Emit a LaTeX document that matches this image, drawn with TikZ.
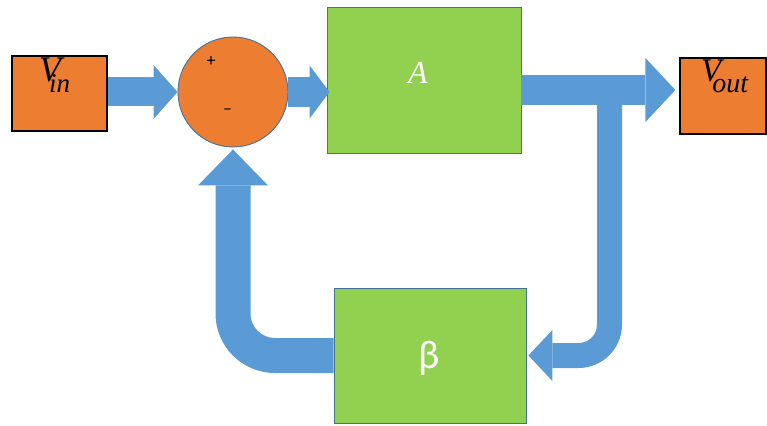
\documentclass[tikz,border=0pt]{standalone}
\usepackage{fontspec}
\newfontfamily\calib{Carlito}
\newfontfamily\serifit{Liberation Serif}[UprightFont=*-Italic]
\usetikzlibrary{arrows.meta,calc}
\definecolor{boxorange}{HTML}{ED7D31}
\definecolor{boxgreen}{HTML}{92D050}
\definecolor{flowblue}{HTML}{5B9BD5}
\definecolor{edgeblue}{HTML}{41719C}
\begin{document}
\begin{tikzpicture}[x=1pt,y=-1pt,
  termbox/.style={draw=black,line width=1.2pt,fill=boxorange,inner sep=0pt},
  gainbox/.style={draw=edgeblue,line width=0.8pt,fill=boxgreen,inner sep=0pt},
  sumnode/.style={circle,draw=edgeblue,line width=0.9pt,fill=boxorange,inner sep=0pt,minimum size=110pt},
  flow/.style={draw=flowblue,line width=#1},
  tipsize/.style 2 args={-{Triangle[length=#1,width=#2,line width=0pt]}},
  sign/.style={inner sep=0pt,font=\calib\fontsize{18}{18}\selectfont}
]
\useasboundingbox (0,0) rectangle (767,425);

% blocks
\node[termbox, minimum width=95pt, minimum height=75pt] (vin) at (59.5,93.5) {};
\node[sumnode] (sum) at (233,92) {};
\node[gainbox, minimum width=194pt, minimum height=146pt] (A) at (424,80) {};
\node[termbox, minimum width=86pt, minimum height=76pt] (vout) at (723,96) {};
\node[gainbox, minimum width=192pt, minimum height=135pt] (beta) at (430,355.5) {};

% labels
\node[anchor=base west, inner sep=0pt] (vinlabel) at (39,82)
  {\serifit\fontsize{36}{36}\selectfont V\kern-12pt\raisebox{-11pt}{\fontsize{27}{27}\selectfont in}};
\node[anchor=base west, inner sep=0pt] (voutlabel) at (701,82)
  {\serifit\fontsize{33}{33}\selectfont V\kern-9pt\raisebox{-11pt}{\fontsize{28}{28}\selectfont out}};
\node[text=white, inner sep=0pt] (Alabel) at (418,72.5) {\serifit\fontsize{32}{32}\selectfont A};
\node[text=white, inner sep=0pt] (betalabel) at (429,358) {\calib\fontsize{40}{40}\selectfont β};
\node[sign] (plus) at (211,62) {+};
\node[sign] (minus) at (227.5,112) {–};

% forward path
\draw[flow=29pt, tipsize={24pt}{54pt}] (vin.east |- sum.west) -- (sum.west);
\draw[flow=30pt, tipsize={20pt}{53pt}, shorten >=-3pt] (sum.east) -- (sum.east -| A.west);

% feedback path
\coordinate (fbtop) at (609.5,100);
\draw[flow=25pt, rounded corners=31pt, tipsize={24pt}{51pt}, shorten >=2pt] (fbtop) |- (beta.east);
\draw[flow=35pt, rounded corners=42pt, tipsize={36pt}{70pt}, shorten >=2pt] (beta.west) -| (sum.south);

% output
\coordinate (outstart) at ($(A.east)+(0,10)$);
\draw[flow=30pt, tipsize={30pt}{64pt}, shorten >=4pt] (outstart) -- (outstart -| vout.west);
\end{tikzpicture}
\end{document}
